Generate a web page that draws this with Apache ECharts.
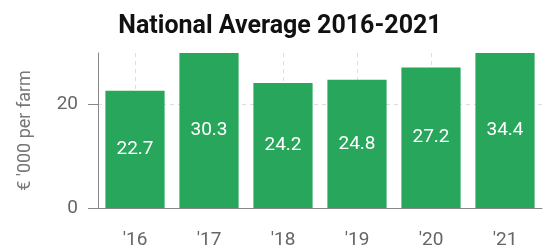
<!DOCTYPE html>
<html><head><meta charset="utf-8">
<script src="https://cdn.jsdelivr.net/npm/echarts@6/dist/echarts.min.js"></script>
<style>html,body{margin:0;padding:0;background:#fff}#c{width:546px;height:250px}</style>
</head><body><div id="c"></div>
<script>
const categories = ["'16", "'17", "'18", "'19", "'20", "'21"];
const values = [22.7, 30.3, 24.2, 24.8, 27.2, 34.4];
const yTicks = [0, 20];
const titleText = 'National Average 2016-2021';
const yName = "€ '000 per farm";

const chart = echarts.init(document.getElementById('c'), null, {renderer: 'canvas'});
chart.setOption({
  animation: false,
  title: {text: titleText, left: 275, textAlign: 'center', top: 9,
    textStyle: {fontFamily: 'Roboto', fontWeight: 'bold', fontSize: 25, color: '#111'}},
  grid: {left: 98, right: 4, top: 53, bottom: 37},
  xAxis: {
    type: 'category', data: categories,
    axisLine: {lineStyle: {color: '#888', width: 1}},
    axisTick: {alignWithLabel: true, length: 9, lineStyle: {color: '#888'}},
    axisLabel: {margin: 23, fontFamily: 'Roboto', fontSize: 19, color: '#666'},
    splitLine: {show: true, alignWithLabel: true, lineStyle: {type: [4, 4], color: '#ddd'}}
  },
  yAxis: {
    type: 'value', min: 0, max: 30, interval: 20,
    name: yName, nameLocation: 'middle', nameGap: 64, nameRotate: 90,
    nameTextStyle: {fontFamily: 'Roboto', fontSize: 18, color: '#777'},
    axisLine: {show: true, lineStyle: {color: '#888'}},
    axisTick: {show: true, length: 10, customValues: yTicks, lineStyle: {color: '#888'}},
    axisLabel: {margin: 20, customValues: yTicks,
      fontFamily: 'Roboto', fontSize: 19, color: '#666'},
    splitLine: {show: true, showMinLine: false, lineStyle: {type: [4, 4], color: '#ddd'}}
  },
  series: [{
    type: 'bar', data: values, barCategoryGap: '20%',
    itemStyle: {color: '#28a65b'},
    label: {show: true, position: 'inside', color: '#fff', fontFamily: 'Roboto', fontSize: 19,
      formatter: p => p.value.toFixed(1)}
  }]
});
</script></body></html>
